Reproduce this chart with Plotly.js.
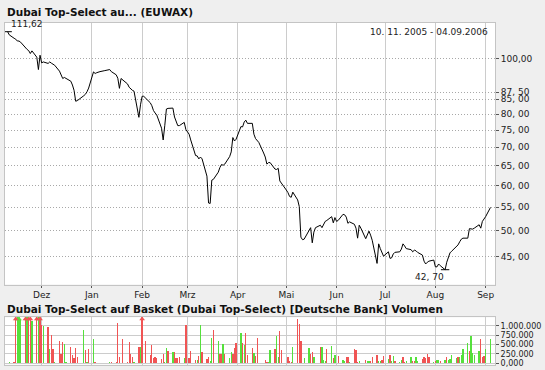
<!DOCTYPE html>
<html><head><meta charset="utf-8">
<script src="https://cdn.plot.ly/plotly-3.0.1.min.js"></script>
<style>html,body{margin:0;padding:0;background:#efefef;}#chart{width:545px;height:370px;}</style>
</head><body><div id="chart"></div>
<script>
const priceDates = [
'2005-11-10','2005-11-11','2005-11-14','2005-11-15','2005-11-16','2005-11-17','2005-11-18','2005-11-21','2005-11-22','2005-11-23','2005-11-24','2005-11-25','2005-11-28','2005-11-29','2005-11-30',
'2005-12-01','2005-12-02','2005-12-05','2005-12-06','2005-12-07','2005-12-08','2005-12-09','2005-12-12','2005-12-13','2005-12-14','2005-12-15','2005-12-16','2005-12-19','2005-12-20','2005-12-21','2005-12-22','2005-12-23','2005-12-27','2005-12-28','2005-12-29','2005-12-30',
'2006-01-02','2006-01-03','2006-01-04','2006-01-05','2006-01-06','2006-01-09','2006-01-10','2006-01-11','2006-01-12','2006-01-13','2006-01-16','2006-01-17','2006-01-18','2006-01-19','2006-01-20','2006-01-23','2006-01-24','2006-01-25','2006-01-26','2006-01-27','2006-01-30','2006-01-31',
'2006-02-01','2006-02-02','2006-02-03','2006-02-06','2006-02-07','2006-02-08','2006-02-09','2006-02-10','2006-02-13','2006-02-14','2006-02-15','2006-02-16','2006-02-17','2006-02-20','2006-02-21','2006-02-22','2006-02-23','2006-02-24','2006-02-27','2006-02-28',
'2006-03-01','2006-03-02','2006-03-03','2006-03-06','2006-03-07','2006-03-08','2006-03-09','2006-03-10','2006-03-13','2006-03-14','2006-03-15','2006-03-16','2006-03-17','2006-03-20','2006-03-21','2006-03-22','2006-03-23','2006-03-24','2006-03-27','2006-03-28','2006-03-29','2006-03-30','2006-03-31',
'2006-04-03','2006-04-04','2006-04-05','2006-04-06','2006-04-07','2006-04-10','2006-04-11','2006-04-12','2006-04-13','2006-04-14','2006-04-17','2006-04-18','2006-04-19','2006-04-20','2006-04-21','2006-04-24','2006-04-25','2006-04-26','2006-04-27','2006-04-28',
'2006-05-01','2006-05-02','2006-05-03','2006-05-04','2006-05-05','2006-05-08','2006-05-09','2006-05-10','2006-05-11','2006-05-12','2006-05-15','2006-05-16','2006-05-17','2006-05-18','2006-05-19','2006-05-22','2006-05-23','2006-05-24','2006-05-25','2006-05-26','2006-05-29','2006-05-30','2006-05-31',
'2006-06-01','2006-06-02','2006-06-05','2006-06-06','2006-06-07','2006-06-08','2006-06-09','2006-06-12','2006-06-13','2006-06-14','2006-06-15','2006-06-16','2006-06-19','2006-06-20','2006-06-21','2006-06-22','2006-06-23','2006-06-26','2006-06-27','2006-06-28','2006-06-29','2006-06-30',
'2006-07-03','2006-07-04','2006-07-05','2006-07-06','2006-07-07','2006-07-10','2006-07-11','2006-07-12','2006-07-13','2006-07-14','2006-07-17','2006-07-18','2006-07-19','2006-07-20','2006-07-21','2006-07-24','2006-07-25','2006-07-26','2006-07-27','2006-07-28','2006-07-31',
'2006-08-01','2006-08-02','2006-08-03','2006-08-04','2006-08-07','2006-08-08','2006-08-09','2006-08-10','2006-08-11','2006-08-14','2006-08-15','2006-08-16','2006-08-17','2006-08-18','2006-08-21','2006-08-22','2006-08-23','2006-08-24','2006-08-25','2006-08-28','2006-08-29','2006-08-30','2006-08-31',
'2006-09-01','2006-09-04'];
const priceValues = [
111.62,110.2,108.7,108.3,107.5,107.5,107.0,104.5,103.9,103.4,102.2,103.3,100.7,95.8,101.5,
98.4,98.8,98.2,98.8,98.3,97.8,97.5,95.2,94.0,92.4,92.8,92.4,91.4,90.0,88.1,84.3,84.5,86.2,86.7,87.6,88.9,
94.9,94.3,94.6,94.9,95.0,95.4,95.5,95.7,95.8,95.0,93.8,92.5,88.8,92.4,91.9,90.4,89.2,88.6,88.1,87.8,79.0,83.1,
86.0,86.0,85.5,83.8,82.8,81.2,80.4,79.8,75.6,72.1,76.5,81.7,81.9,82.0,79.1,77.4,76.4,76.4,77.4,75.2,
74.6,73.8,72.1,67.7,67.6,66.8,67.3,66.8,62.3,55.9,55.8,61.3,61.5,63.3,64.5,65.3,65.1,65.4,67.4,68.7,72.8,71.8,72.3,
76.1,76.0,77.5,78.1,77.1,77.1,73.8,72.5,71.8,71.4,68.4,67.3,65.4,65.8,65.8,64.1,64.0,64.3,61.1,60.6,
58.9,58.3,57.4,57.2,58.4,56.6,55.1,48.7,48.2,48.3,49.9,50.6,47.6,49.7,50.6,51.1,50.6,51.4,51.9,52.1,52.9,51.6,52.7,
51.9,52.1,53.4,53.3,52.8,51.5,51.8,51.3,50.5,48.5,51.1,50.5,48.4,49.1,49.9,49.1,48.1,43.8,47.4,46.5,45.7,45.1,
45.9,44.7,44.8,45.5,45.8,45.9,46.4,47.4,47.0,46.5,46.3,45.9,46.2,46.1,45.8,45.3,44.2,43.7,44.0,44.2,44.4,
43.2,43.2,43.7,43.4,42.70,44.0,44.9,45.7,46.0,46.9,47.2,47.8,48.3,48.5,48.5,50.4,50.3,50.3,50.5,51.2,50.5,51.9,52.4,
52.9,54.9];

const greenDates = ['2005-11-11','2005-11-16','2005-11-17','2005-11-18','2005-11-22','2005-11-25','2005-11-29','2005-12-02','2005-12-06','2005-12-09','2005-12-15','2005-12-16','2005-12-27','2005-12-29','2006-01-02','2006-01-12','2006-01-27','2006-01-31','2006-02-15','2006-02-16','2006-02-20','2006-02-27','2006-03-07','2006-03-09','2006-03-15','2006-03-16','2006-03-20','2006-03-23','2006-03-27','2006-03-28','2006-04-03','2006-04-05','2006-04-11','2006-04-20','2006-04-21','2006-04-25','2006-04-26','2006-05-05','2006-05-12','2006-05-15','2006-05-18','2006-05-23','2006-05-24','2006-05-25','2006-05-29','2006-05-31','2006-06-05','2006-06-06','2006-06-09','2006-06-15','2006-06-20','2006-06-21','2006-06-27','2006-06-28','2006-07-03','2006-07-05','2006-07-06','2006-07-10','2006-07-11','2006-07-14','2006-07-17','2006-07-20','2006-07-21','2006-07-31','2006-08-02','2006-08-03','2006-08-07','2006-08-09','2006-08-10','2006-08-11','2006-08-14','2006-08-16','2006-08-17','2006-08-18','2006-08-21','2006-08-23','2006-08-24','2006-08-25','2006-08-28','2006-09-01','2006-09-04'];
const greenVolumes = [44000,1400000,1400000,1150000,1400000,1120000,1400000,1000000,380000,35000,513000,35000,885000,27000,646000,27000,44000,442000,27000,416000,310000,142000,88000,1020000,62000,681000,593000,513000,142000,301000,805000,487000,265000,44000,354000,735000,177000,442000,142000,407000,159000,434000,88000,71000,460000,221000,88000,71000,44000,71000,71000,62000,62000,71000,115000,62000,186000,44000,88000,71000,177000,159000,71000,44000,88000,88000,88000,88000,115000,221000,150000,177000,221000,380000,530000,735000,265000,230000,319000,389000,646000];

const redDates = ['2005-11-14','2005-11-15','2005-11-21','2005-11-23','2005-11-24','2005-11-28','2005-11-30','2005-12-01','2005-12-05','2005-12-07','2005-12-08','2005-12-12','2005-12-13','2005-12-14','2005-12-19','2005-12-20','2005-12-21','2005-12-22','2005-12-23','2005-12-28','2005-12-30','2006-01-03','2006-01-13','2006-01-16','2006-01-17','2006-01-18','2006-01-20','2006-01-23','2006-01-24','2006-01-25','2006-01-26','2006-01-30','2006-02-01','2006-02-03','2006-02-06','2006-02-07','2006-02-08','2006-02-09','2006-02-10','2006-02-13','2006-02-14','2006-02-17','2006-02-21','2006-02-22','2006-02-23','2006-02-24','2006-02-28','2006-03-02','2006-03-03','2006-03-06','2006-03-08','2006-03-10','2006-03-13','2006-03-14','2006-03-17','2006-03-21','2006-03-22','2006-03-24','2006-03-29','2006-03-30','2006-03-31','2006-04-04','2006-04-06','2006-04-07','2006-04-10','2006-04-12','2006-04-13','2006-04-18','2006-04-19','2006-04-24','2006-04-27','2006-04-28','2006-05-02','2006-05-03','2006-05-04','2006-05-08','2006-05-09','2006-05-10','2006-05-16','2006-05-17','2006-05-22','2006-05-26','2006-05-30','2006-06-02','2006-06-07','2006-06-08','2006-06-12','2006-06-13','2006-06-14','2006-06-19','2006-06-22','2006-06-23','2006-06-26','2006-06-29','2006-06-30','2006-07-04','2006-07-07','2006-07-12','2006-07-13','2006-07-18','2006-07-19','2006-07-24','2006-07-25','2006-07-26','2006-07-27','2006-07-28','2006-08-01','2006-08-04','2006-08-08','2006-08-15','2006-08-22','2006-08-29','2006-08-30','2006-08-31'];
const redVolumes = [44000,1400000,1400000,1400000,1400000,1400000,1400000,1020000,956000,752000,380000,584000,248000,557000,434000,221000,142000,407000,177000,354000,380000,44000,27000,44000,1070000,177000,646000,44000,557000,248000,177000,442000,1400000,593000,221000,487000,142000,177000,142000,115000,248000,327000,310000,142000,142000,177000,1020000,142000,327000,88000,195000,301000,115000,177000,894000,248000,248000,248000,248000,416000,549000,540000,805000,221000,407000,195000,672000,88000,35000,380000,850000,354000,177000,62000,44000,1180000,1040000,602000,248000,301000,434000,389000,150000,204000,159000,177000,389000,354000,44000,88000,62000,177000,221000,88000,204000,221000,62000,177000,44000,62000,71000,115000,159000,142000,248000,159000,71000,62000,159000,177000,336000,646000,177000,195000];

const monthTicks = ['2005-12-01','2006-01-01','2006-02-01','2006-03-01','2006-04-01','2006-05-01','2006-06-01','2006-07-01','2006-08-01','2006-09-01'];
const monthLabels = ['Dez','Jan','Feb','Mrz','Apr','Mai','Jun','Jul','Aug','Sep'];
const priceTicks = [45,50,55,60,65,70,75,80,85,87.5,100];
const priceTickLabels = ['45, 00','50, 00','55, 00','60, 00','65, 00','70, 00','75, 00','80, 00','85, 00','87, 50','100,00'];
const volTicks = [0,250000,500000,750000,1000000];
const volTickLabels = ['0,000','250.000','500.000','750.000','1.000.000'];

const W = 545, H = 370;
const xRange = ['2005-11-08 09:00','2006-09-06 19:00'];
const volRange = [-37000, 1223000];
const FONT = 'DejaVu Sans, sans-serif';
const RED = '#f05454', GREEN = '#55e03c';

const iMax = priceValues.indexOf(Math.max(...priceValues));
const iMin = priceValues.indexOf(Math.min(...priceValues));
const fmt = v => v.toFixed(2).replace('.', ', ');

const clipG = greenDates.filter((d,i)=>greenVolumes[i]>volRange[1]);
const clipR = redDates.filter((d,i)=>redVolumes[i]>volRange[1]);
const barW = 0.8*86400000;

const traces = [
  {x: priceDates, y: priceValues, type:'scatter', mode:'lines', line:{color:'#000', width:1}, xaxis:'x', yaxis:'y', hoverinfo:'skip'},
  {x: [priceDates[iMax], priceDates[iMin]], y:[priceValues[iMax], priceValues[iMin]], type:'scatter', mode:'markers',
   marker:{symbol:'line-ew', size:6, line:{width:1, color:'#000'}}, xaxis:'x', yaxis:'y'},
  {x: greenDates, y: greenVolumes, type:'bar', marker:{color:GREEN, line:{width:0}}, width:barW, xaxis:'x2', yaxis:'y2'},
  {x: redDates, y: redVolumes, type:'bar', marker:{color:RED, line:{width:0}}, width:barW, xaxis:'x2', yaxis:'y2'},
  {x: clipG, y: clipG.map(()=>volRange[1]*0.965), type:'scatter', mode:'markers', marker:{symbol:'triangle-up', size:5, color:GREEN}, xaxis:'x2', yaxis:'y2', cliponaxis:false},
  {x: clipR, y: clipR.map(()=>volRange[1]*0.965), type:'scatter', mode:'markers', marker:{symbol:'triangle-up', size:5, color:RED}, xaxis:'x2', yaxis:'y2', cliponaxis:false}
];

const px = v => v / W, py = v => 1 - v / H;
const tickFont = {family: FONT, size: 9, color: '#222'};
const volFont = {family: FONT, size: 8, color: '#222'};

const layout = {
  width: W, height: H, autosize:false,
  margin:{l:0,r:0,t:0,b:0},
  paper_bgcolor:'#efefef', plot_bgcolor:'#ffffff',
  showlegend:false, bargap:0,
  xaxis:{domain:[px(5), px(495)], type:'date', range:xRange, tickmode:'array', tickvals:monthTicks, ticktext:monthLabels,
    showgrid:true, gridcolor:'#cccccc', gridwidth:1, ticks:'outside', ticklen:2, tickcolor:'#555', tickfont:tickFont,
    showline:true, mirror:true, linecolor:'#c4c4c4', linewidth:1, zeroline:false, anchor:'y', fixedrange:true},
  yaxis:{domain:[py(284.5), py(23)], type:'log', range:[1.6045, 2.0630], side:'right', tickmode:'array', tickvals:priceTicks, ticktext:priceTickLabels,
    showgrid:true, gridcolor:'#a8a8a8', griddash:'1px,2px', gridwidth:1, ticks:'outside', ticklen:3, tickcolor:'#555', tickfont:tickFont,
    showline:true, mirror:true, linecolor:'#c4c4c4', linewidth:1, zeroline:false, anchor:'x'},
  xaxis2:{domain:[px(5), px(495)], type:'date', range:xRange, tickmode:'array', tickvals:monthTicks, showticklabels:false,
    showgrid:true, gridcolor:'#cccccc', ticks:'', showline:true, mirror:true, linecolor:'#c4c4c4', zeroline:false, anchor:'y2'},
  yaxis2:{domain:[py(364.7), py(317.3)], range:volRange, side:'right', tickmode:'array', tickvals:volTicks, ticktext:volTickLabels,
    showgrid:true, gridcolor:'#cccccc', ticks:'outside', ticklen:3, tickcolor:'#555', tickfont:volFont,
    showline:true, mirror:true, linecolor:'#c4c4c4', zeroline:false, anchor:'x2'},
  annotations:[
    {xref:'paper', yref:'paper', x:px(5), y:py(12), xanchor:'left', yanchor:'middle', showarrow:false,
     text:'<b>Dubai Top-Select au... (EUWAX)</b>', font:{family:FONT, size:10.5, color:'#111'}},
    {xref:'paper', yref:'paper', x:px(5), y:py(308.5), xanchor:'left', yanchor:'middle', showarrow:false,
     text:'<b>Dubai Top-Select auf Basket (Dubai Top-Select) [Deutsche Bank] Volumen</b>', font:{family:FONT, size:10.5, color:'#111'}},
    {xref:'paper', yref:'paper', x:px(27), y:py(24.5), xanchor:'center', yanchor:'middle', showarrow:false,
     text: fmt(priceValues[iMax]).replace(', ', ','), font:tickFont},
    {xref:'paper', yref:'paper', x:px(429), y:py(276.5), xanchor:'center', yanchor:'middle', showarrow:false,
     text: fmt(priceValues[iMin]), font:tickFont},
    {xref:'paper', yref:'paper', x:px(490), y:py(31.5), xanchor:'right', yanchor:'middle', showarrow:false,
     text:'10. 11. 2005 - 04.09.2006', font:tickFont}
  ]
};

Plotly.newPlot('chart', traces, layout, {staticPlot:true, displayModeBar:false});
</script></body></html>
